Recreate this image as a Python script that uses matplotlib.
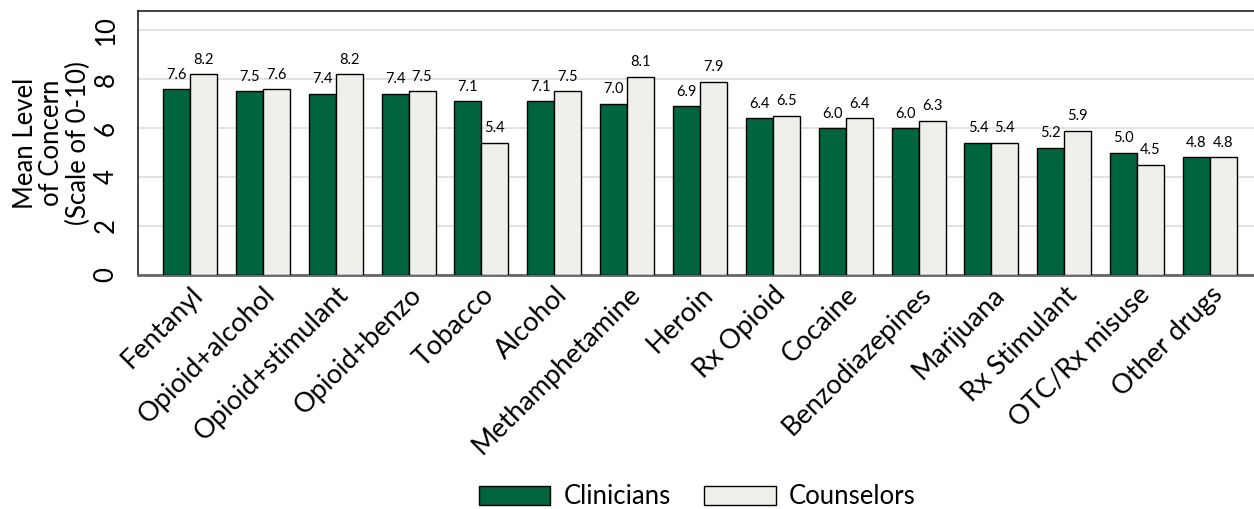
import matplotlib
matplotlib.use("Agg")
import matplotlib.pyplot as plt
import numpy as np

categories = ["Fentanyl", "Opioid+alcohol", "Opioid+stimulant", "Opioid+benzo", "Tobacco",
              "Alcohol", "Methamphetamine", "Heroin", "Rx Opioid", "Cocaine",
              "Benzodiazepines", "Marijuana", "Rx Stimulant", "OTC/Rx misuse", "Other drugs"]
clinicians = [7.6, 7.5, 7.4, 7.4, 7.1, 7.1, 7.0, 6.9, 6.4, 6.0, 6.0, 5.4, 5.2, 5.0, 4.8]
counselors = [8.2, 7.6, 8.2, 7.5, 5.4, 7.5, 8.1, 7.9, 6.5, 6.4, 6.3, 5.4, 5.9, 4.5, 4.8]
yticks = [0, 2, 4, 6, 8, 10]

plt.rcParams['font.family'] = ['Lato', 'DejaVu Sans']

fig = plt.figure(figsize=(12.54, 5.09), dpi=100)
W, H = 1254, 509
left, right, top, bottom = 138, 1262, 11, 275
ax = fig.add_axes([left / W, 1 - bottom / H, (right - left) / W, (bottom - top) / H])

x = np.arange(len(categories))
bw = 0.37
dark = "#00643F"
light = "#EFF0EB"
b1 = ax.bar(x, clinicians, width=-bw, align='edge', color=dark, edgecolor='black', linewidth=1.0, label='Clinicians', zorder=3)
b2 = ax.bar(x, counselors, width=bw, align='edge', color=light, edgecolor='black', linewidth=1.0, label='Counselors', zorder=3)

for rect, v in zip(b1, clinicians):
    ax.text(rect.get_x() + rect.get_width() / 2, v + 0.3, f"{v:.1f}", ha='center', va='bottom', fontsize=10.5)
for rect, v in zip(b2, counselors):
    ax.text(rect.get_x() + rect.get_width() / 2, v + 0.3, f"{v:.1f}", ha='center', va='bottom', fontsize=10.5)

ax.set_xlim(-0.714, len(categories) - 1 + 0.714)
ax.set_ylim(0, 10.78)
ax.set_yticks(yticks)
ax.set_yticklabels([str(t) for t in yticks], rotation=90, va='center', fontsize=18.5)
ax.set_xticks(x)
ax.set_xticklabels(categories, rotation=45, ha='right', rotation_mode='anchor', fontsize=19.5)
ax.tick_params(axis='both', length=0)
ax.tick_params(axis='y', pad=14)
ax.tick_params(axis='x', pad=5)
ax.yaxis.grid(True, color='#DDDDDD', linewidth=1.2, zorder=0)
ax.set_axisbelow(True)
for s in ['left', 'top', 'right']:
    ax.spines[s].set_color('#222222')
    ax.spines[s].set_linewidth(1.2)
ax.spines['bottom'].set_color('#666666')
ax.spines['bottom'].set_linewidth(2)

fig.text(52 / W, 1 - 143 / H, "Mean Level\nof Concern\n(Scale of 0-10)", rotation=90,
         ha='center', va='center', fontsize=18.5, linespacing=1.05)

fig.legend(handles=[b1, b2], labels=['Clinicians', 'Counselors'], loc='center',
           bbox_to_anchor=(697 / W, 1 - 497 / H), ncol=2, frameon=False, fontsize=18.5,
           handlelength=2.8, handleheight=0.75, columnspacing=1.3, handletextpad=0.5)

fig.savefig("out.png", dpi=100)
